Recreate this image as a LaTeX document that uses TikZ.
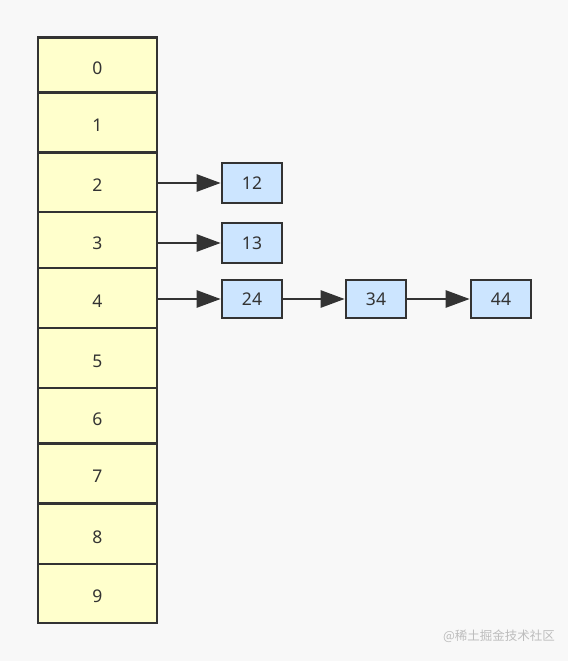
\documentclass[tikz,border=0pt]{standalone}
\usepackage{fontspec}
\setmainfont{Noto Sans}
\newfontfamily\cjk{Noto Sans CJK SC}
\usetikzlibrary{arrows.meta}
\definecolor{bgc}{HTML}{F8F8F8}
\definecolor{cellc}{HTML}{FFFFCC}
\definecolor{boxc}{HTML}{CCE5FF}
\definecolor{linec}{HTML}{333333}
\definecolor{wmc}{HTML}{BDBDBD}
\tikzset{
  cell/.style={draw=linec, fill=cellc, line width=2.6pt, minimum width=119pt, inner sep=0pt, text=linec, font=\fontsize{17.5pt}{20pt}\selectfont, text height=18.5pt, text depth=0pt},
  lbox/.style={draw=linec, fill=boxc, line width=2.6pt, minimum width=60pt, minimum height=40pt, inner sep=0pt, text=linec, font=\fontsize{17.5pt}{20pt}\selectfont},
  arr/.style={draw=linec, line width=2.6pt, -{Triangle[length=24pt,width=17pt]}},
}
\begin{document}
\begin{tikzpicture}[x=1pt,y=-1pt]
\fill[bgc] (0,0) rectangle (568,661);
\useasboundingbox (0,0) rectangle (568,661);
\node[cell, minimum height=55pt] (r0) at (97.5,65) {0};
\node[cell, minimum height=60pt] (r1) at (97.5,122.5) {1};
\node[cell, minimum height=59.5pt] (r2) at (97.5,182.25) {2};
\node[cell, minimum height=56pt] (r3) at (97.5,240) {3};
\node[cell, minimum height=60pt] (r4) at (97.5,298) {4};
\node[cell, minimum height=60pt] (r5) at (97.5,358) {5};
\node[cell, minimum height=55.5pt] (r6) at (97.5,415.75) {6};
\node[cell, minimum height=60pt] (r7) at (97.5,473.5) {7};
\node[cell, minimum height=60.5pt] (r8) at (97.5,533.75) {8};
\node[cell, minimum height=59pt] (r9) at (97.5,593.5) {9};
\node[lbox] (b12) at (252,183) {12};
\node[lbox] (b13) at (252,243) {13};
\node[lbox, minimum height=38pt] (b24) at (252,299) {24};
\node[lbox, minimum height=38pt] (b34) at (376,299) {34};
\node[lbox, minimum height=38pt] (b44) at (501,299) {44};
\draw[arr] (r2.east |- b12.west) -- (b12.west);
\draw[arr] (r3.east |- b13.west) -- (b13.west);
\draw[arr] (r4.east |- b24.west) -- (b24.west);
\draw[arr] (b24.east) -- (b34.west);
\draw[arr] (b34.east) -- (b44.west);
\node[text=wmc, font=\cjk\fontsize{12.5pt}{14pt}\selectfont, inner sep=0pt] (wm) at (499,636) {@稀土掘金技术社区};
\end{tikzpicture}
\end{document}
